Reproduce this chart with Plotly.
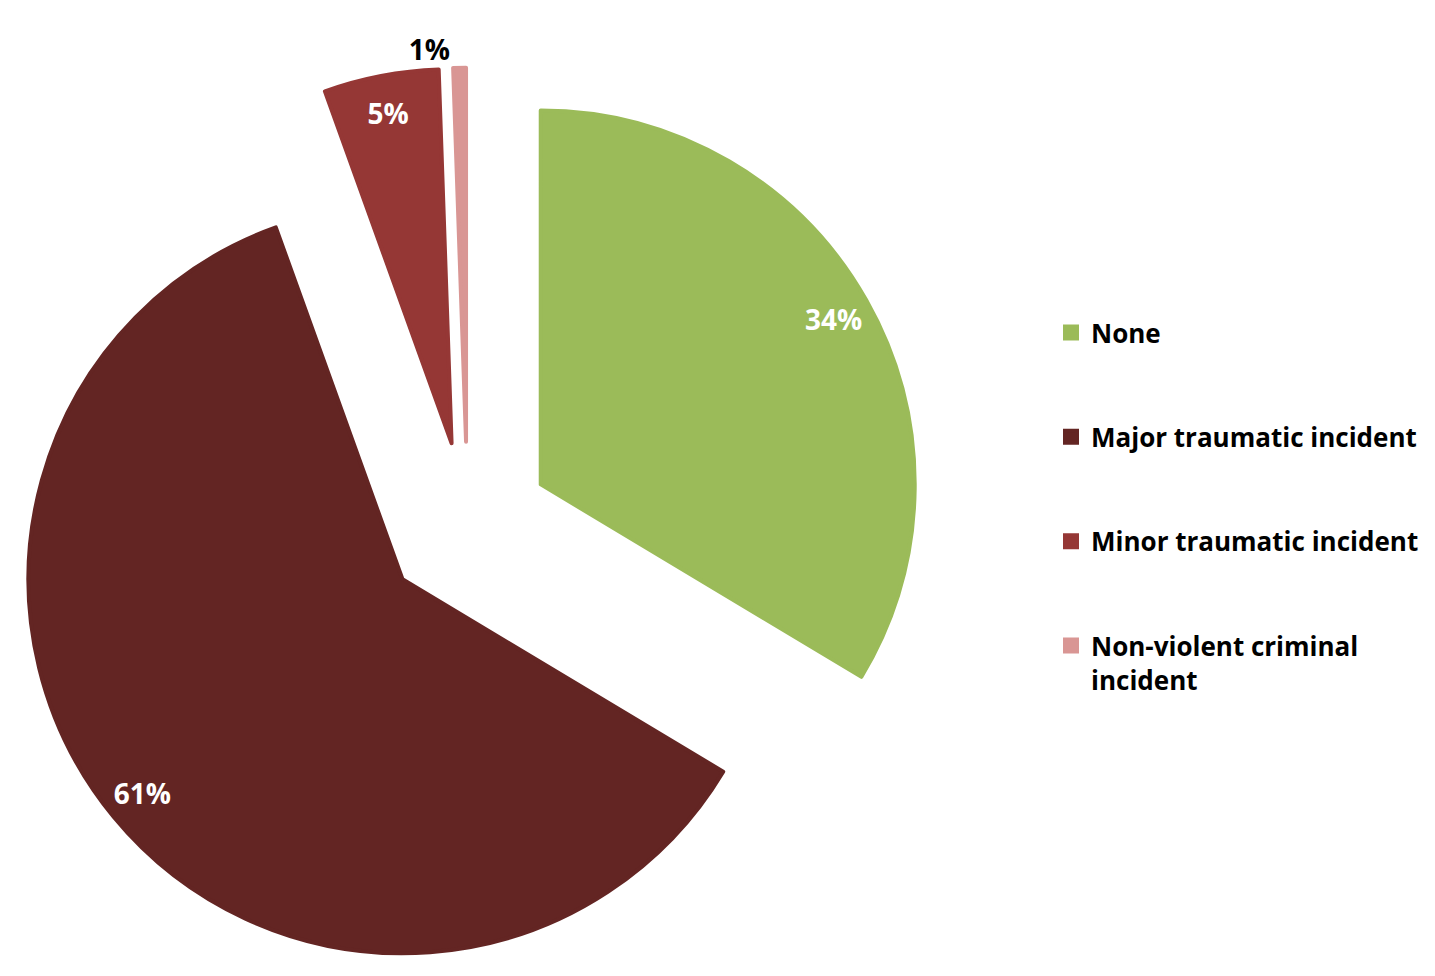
import plotly.graph_objects as go

# ---- data ----
categories = ["None", "Major traumatic incident", "Minor traumatic incident",
              "Non-violent criminal<br>incident"]
shares = [33.6, 60.9, 4.95, 0.55]
colors = ["#9BBB59", "#632523", "#953735", "#D99694"]
label_positions = ["inside", "inside", "inside", "outside"]

# ---- layout geometry ----
W, H = 1435, 976
PULL = 0.225
R = 374
half = R * (1 + PULL)
cx = 459.5
dom_x = [(cx - half) / W, (cx + half) / W]
dom_y = [0, 2 * half / H]

LEGEND_LINES = 3


def legend_label(s):
    n = s.count("<br>") + 1
    return s + "<br> " * (LEGEND_LINES - n)


legend_labels = [legend_label(c) for c in categories]

FONT = "Open Sans"

fig = go.Figure()
fig.add_trace(go.Pie(
    labels=legend_labels, values=shares,
    marker=dict(colors=colors, line=dict(width=4, color=colors)),
    pull=[PULL] * len(shares), sort=False, direction="clockwise", rotation=0,
    textinfo="none", domain=dict(x=dom_x, y=dom_y),
    hoverinfo="label+percent",
))
# transparent ring carrying the percentage labels near the outer edge
fig.add_trace(go.Pie(
    labels=legend_labels, values=shares, hole=0.80,
    marker=dict(colors=["rgba(0,0,0,0)"] * len(shares), line=dict(width=0)),
    pull=[PULL] * len(shares), sort=False, direction="clockwise", rotation=0,
    texttemplate="%{percent:.0%}", textposition=label_positions,
    insidetextorientation="horizontal",
    insidetextfont=dict(family=FONT, size=28, color="white", weight="bold"),
    outsidetextfont=dict(family=FONT, size=28, color="black", weight="bold"),
    domain=dict(x=dom_x, y=dom_y), showlegend=False, hoverinfo="skip",
))

fig.update_layout(
    width=W, height=H,
    margin=dict(l=0, r=0, t=0, b=0, autoexpand=False),
    paper_bgcolor="white", plot_bgcolor="white",
    legend=dict(
        x=1043 / W, xanchor="left", y=1 - 301 / H, yanchor="top",
        font=dict(family=FONT, size=26, color="black", weight="bold"),
        valign="top", traceorder="normal", bgcolor="rgba(0,0,0,0)",
    ),
)

fig.write_html("out.html")
